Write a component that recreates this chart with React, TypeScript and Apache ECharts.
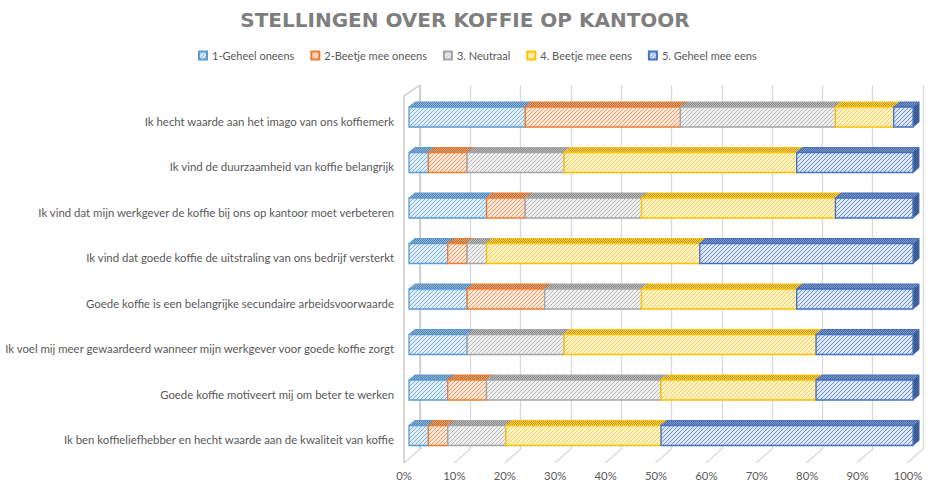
import React, { useEffect, useRef } from "react";
import * as echarts from "echarts";

// Categories bottom-to-top (as on the axis)
const categories = [
  "Ik ben koffieliefhebber en hecht waarde aan de kwaliteit van koffie",
  "Goede koffie motiveert mij om beter te werken",
  "Ik voel mij meer gewaardeerd wanneer mijn werkgever voor goede koffie zorgt",
  "Goede koffie is een belangrijke secundaire arbeidsvoorwaarde",
  "Ik vind dat goede koffie de uitstraling van ons bedrijf versterkt",
  "Ik vind dat mijn werkgever de koffie bij ons op kantoor moet verbeteren",
  "Ik vind de duurzaamheid van koffie belangrijk",
  "Ik hecht waarde aan het imago van ons koffiemerk",
];

const seriesNames = [
  "1-Geheel oneens",
  "2-Beetje mee oneens",
  "3. Neutraal",
  "4. Beetje mee eens",
  "5. Geheel mee eens",
];

// percentages per category (bottom-to-top)
const geheelOneens = [3.85, 7.69, 11.54, 11.54, 7.69, 15.38, 3.85, 23.08];
const beetjeOneens = [3.85, 7.69, 0, 15.38, 3.85, 7.69, 7.69, 30.77];
const neutraal = [11.54, 34.62, 19.23, 19.23, 3.85, 23.08, 19.23, 30.77];
const beetjeEens = [30.77, 30.77, 50.0, 30.77, 42.31, 38.46, 46.15, 11.54];
const geheelEens = [50.0, 19.23, 19.23, 23.08, 42.31, 15.38, 23.08, 3.85];

const xTicks = [0, 10, 20, 30, 40, 50, 60, 70, 80, 90, 100];

const colors = ["#5B9BD5", "#ED7D31", "#A5A5A5", "#FFC000", "#4472C4"];

function hexToRgb(h: string) {
  const n = parseInt(h.slice(1), 16);
  return [(n >> 16) & 255, (n >> 8) & 255, n & 255];
}
function mix(a: string, b: string, t: number) {
  const A = hexToRgb(a), B = hexToRgb(b);
  const c = A.map((v, i) => Math.round(v * (1 - t) + B[i] * t));
  return `rgb(${c[0]},${c[1]},${c[2]})`;
}

function hatch(fg: string, bg: string, size: number, width: number) {
  const cv = document.createElement("canvas");
  cv.width = size;
  cv.height = size;
  const ctx = cv.getContext("2d")!;
  ctx.fillStyle = bg;
  ctx.fillRect(0, 0, size, size);
  ctx.strokeStyle = fg;
  ctx.lineWidth = width;
  ctx.beginPath();
  ctx.moveTo(-1, 1);
  ctx.lineTo(1, -1);
  ctx.moveTo(0, size);
  ctx.lineTo(size, 0);
  ctx.moveTo(size - 1, size + 1);
  ctx.lineTo(size + 1, size - 1);
  ctx.stroke();
  return {
    image: cv.toDataURL(),
    repeat: "repeat",
    imageWidth: size,
    imageHeight: size,
  } as any;
}

function dots(fg: string, bg: string) {
  const cv = document.createElement("canvas");
  cv.width = 2;
  cv.height = 2;
  const ctx = cv.getContext("2d")!;
  ctx.fillStyle = bg;
  ctx.fillRect(0, 0, 2, 2);
  ctx.fillStyle = fg;
  ctx.fillRect(0, 0, 1, 1);
  ctx.fillRect(1, 1, 1, 1);
  return { image: cv.toDataURL(), repeat: "repeat", imageWidth: 2, imageHeight: 2 } as any;
}

const DX = 6;
const DY = 5;

export default function App() {
  const ref = useRef<HTMLDivElement>(null);
  useEffect(() => {
    if (!ref.current) return;
    const chart = echarts.init(ref.current, undefined, { renderer: "svg" });
    const values = [geheelOneens, beetjeOneens, neutraal, beetjeEens, geheelEens];

    const starts = categories.map(() => 0);
    const seriesData = values.map((arr) =>
      arr.map((v, i) => {
        const s = starts[i];
        starts[i] = s + v;
        return [i, s, s + v];
      })
    );

    const font = "Lato";
    const textColor = "#595959";

    const barSeries = values.map((_, k) => {
      const c = colors[k];
      const front = hatch(mix(c, "#ffffff", 0.15), mix(c, "#ffffff", 0.82), 4, 0.9);
      const top = dots(mix(c, "#555555", 0.4), mix(c, "#ffffff", 0.3));
      const side = dots(mix(c, "#333333", 0.55), mix(c, "#555555", 0.3));
      return {
        type: "custom",
        name: seriesNames[k],
        xAxisIndex: 0,
        yAxisIndex: 0,
        z: 3,
        itemStyle: { color: front, borderColor: c, borderWidth: 1 },
        encode: { x: [1, 2], y: 0 },
        data: seriesData[k],
        renderItem: (params: any, api: any) => {
          const cat = api.value(0);
          const s = api.value(1);
          const e = api.value(2);
          if (!(e - s > 0)) return null;
          const p0 = api.coord([s, cat]);
          const p1 = api.coord([e, cat]);
          const band = api.size([0, 1])[1];
          const h = band * 0.44;
          const x0 = p0[0];
          const x1 = p1[0];
          const y0 = p0[1] - h / 2;
          return {
            type: "group",
            children: [
              {
                type: "polygon",
                shape: { points: [[x1, y0], [x1 + DX, y0 - DY], [x1 + DX, y0 + h - DY], [x1, y0 + h]] },
                style: { fill: side, stroke: c, lineWidth: 1 },
              },
              {
                type: "polygon",
                shape: { points: [[x0, y0], [x0 + DX, y0 - DY], [x1 + DX, y0 - DY], [x1, y0]] },
                style: { fill: top, stroke: c, lineWidth: 1 },
              },
              {
                type: "rect",
                shape: { x: x0, y: y0, width: x1 - x0, height: h },
                style: { fill: front, stroke: c, lineWidth: 1.3 },
              },
            ],
          };
        },
      };
    });

    const wallSeries = {
      type: "custom",
      xAxisIndex: 2,
      yAxisIndex: 2,
      silent: true,
      z: 1,
      data: xTicks.map((v) => [v]),
      encode: { x: 0 },
      renderItem: (params: any, api: any) => {
        const v = api.value(0);
        const cs = params.coordSys;
        const x = api.coord([v, 0])[0];
        const yb = cs.y + cs.height;
        const children: any[] = [
          {
            type: "line",
            shape: { x1: x, y1: yb, x2: x - 16, y2: yb + 14 },
            style: { stroke: "#d9d9d9", lineWidth: 1.3 },
          },
        ];
        if (v === 0) {
          children.push(
            {
              type: "line",
              shape: { x1: x - 16, y1: cs.y + 11, x2: x - 16, y2: yb + 14 },
              style: { stroke: "#c8c8c8", lineWidth: 1.5 },
            },
            {
              type: "line",
              shape: { x1: x - 16, y1: cs.y + 11, x2: x, y2: cs.y },
              style: { stroke: "#c8c8c8", lineWidth: 1.5 },
            },
            {
              type: "line",
              shape: { x1: x, y1: cs.y, x2: x, y2: yb },
              style: { stroke: "#c8c8c8", lineWidth: 1.5 },
            }
          );
        }
        return { type: "group", children };
      },
    };

    chart.setOption({
      animation: false,
      backgroundColor: "#ffffff",
      title: {
        text: "STELLINGEN OVER KOFFIE OP KANTOOR",
        left: 465,
        textAlign: "center",
        top: 10,
        padding: 0,
        textStyle: {
          fontFamily: "DejaVu Sans",
          fontWeight: "bold",
          fontSize: 20,
          color: "#7f7f7f",
        },
      },
      legend: {
        data: seriesNames,
        top: 50,
        left: 198,
        padding: 0,
        itemGap: 16,
        itemWidth: 8,
        itemHeight: 8,
        icon: "rect",
        textStyle: { fontFamily: font, fontSize: 11, color: textColor },
      },
      grid: [
        { left: 409, top: 94.25, width: 504, height: 364 },
        { left: 404, top: 98.25, width: 504, height: 364 },
        { left: 420, top: 85, width: 503, height: 364 },
      ],
      xAxis: [
        { gridIndex: 0, type: "value", min: 0, max: 100, interval: 10, show: false },
        {
          gridIndex: 1,
          type: "value",
          min: 0,
          max: 100,
          interval: 10,
          axisLine: { show: false },
          axisTick: { show: false },
          splitLine: { show: false },
          axisLabel: {
            formatter: "{value}%",
            margin: 8,
            fontFamily: font,
            fontSize: 11.3,
            color: textColor,
          },
        },
        {
          gridIndex: 2,
          type: "value",
          min: 0,
          max: 100,
          interval: 10,
          axisLine: { show: false },
          axisTick: { show: false },
          axisLabel: { show: false },
          splitLine: { show: true, lineStyle: { color: "#d9d9d9", width: 1.3 } },
        },
      ],
      yAxis: [
        { gridIndex: 0, type: "category", data: categories, show: false },
        {
          gridIndex: 1,
          type: "category",
          data: categories,
          axisLine: { show: false },
          axisTick: { show: false },
          axisLabel: {
            margin: 10,
            fontFamily: font,
            fontSize: 11.4,
            color: textColor,
          },
        },
        { gridIndex: 2, type: "category", data: categories, show: false },
      ],
      series: [wallSeries, ...barSeries],
    });
    return () => chart.dispose();
  }, []);
  return (
    <div
      ref={ref}
      style={{ position: "fixed", left: 0, top: 0, width: 944, height: 491, background: "#fff" }}
    />
  );
}
